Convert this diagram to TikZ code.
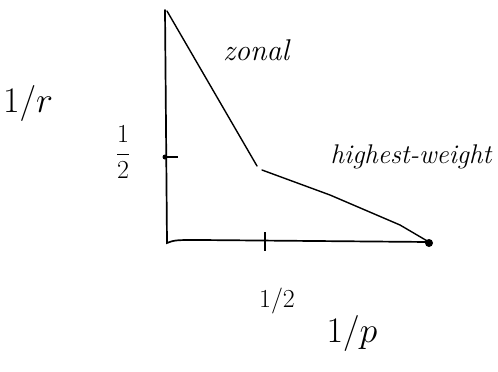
\RequirePackage{fix-cm}
\documentclass[tikz,border=0pt]{standalone}
\usepackage{fontspec}
\begin{document}
\begin{tikzpicture}[x=1pt,y=-1pt,
  axis/.style={line width=1.7pt,line cap=round},
  curve/.style={line width=1.4pt,line cap=round},
  lbl/.style={inner sep=0pt},
  frac/.style={inner sep=0pt,font=\fontsize{26}{28}\selectfont},
  big/.style={inner sep=0pt,font=\fontsize{36}{38}\selectfont}]
\useasboundingbox (0,0) rectangle (498,372);
% axes
\coordinate (top) at (165,10);
\coordinate (origin) at (167,243);
\coordinate (xend) at (429,242);
\draw[axis] (top) -- (origin) .. controls (175,240) .. (200,240) -- (xend);
% ticks
\coordinate (ty) at (165,157);
\coordinate (tyr) at (178,157);
\draw[line width=1.4pt] (ty) -- (tyr);
\fill (ty) circle (2.5pt);
\coordinate (tx1) at (265,232);
\coordinate (tx2) at (265,251);
\draw[line width=1.4pt] (tx1) -- (tx2);
% curve
\coordinate (c0) at (167,11);
\coordinate (c1) at (257,166);
\coordinate (c2) at (262,170);
\draw[curve] (c0) -- (c1);
\draw[curve] (c2) -- (330,195) -- (400,225) -- (xend);
\node[circle,fill,inner sep=0pt,minimum size=8pt] (dot) at (429,243) {};
% labels
\node[lbl,font=\fontsize{30}{32}\selectfont\itshape] (zonal) at (256,50) {zonal};
\node[lbl,font=\fontsize{27}{29}\selectfont\itshape] (hw) at (411,157) {highest-weight};
\node[frac] (hy) at (123,152) {$\displaystyle\frac{1}{2}$};
\node[frac] (hx) at (277,301) {$1/2$};
\node[big] (r) at (28,103) {$1/r$};
\node[big] (p) at (352,333) {$1/p$};
\end{tikzpicture}
\end{document}
